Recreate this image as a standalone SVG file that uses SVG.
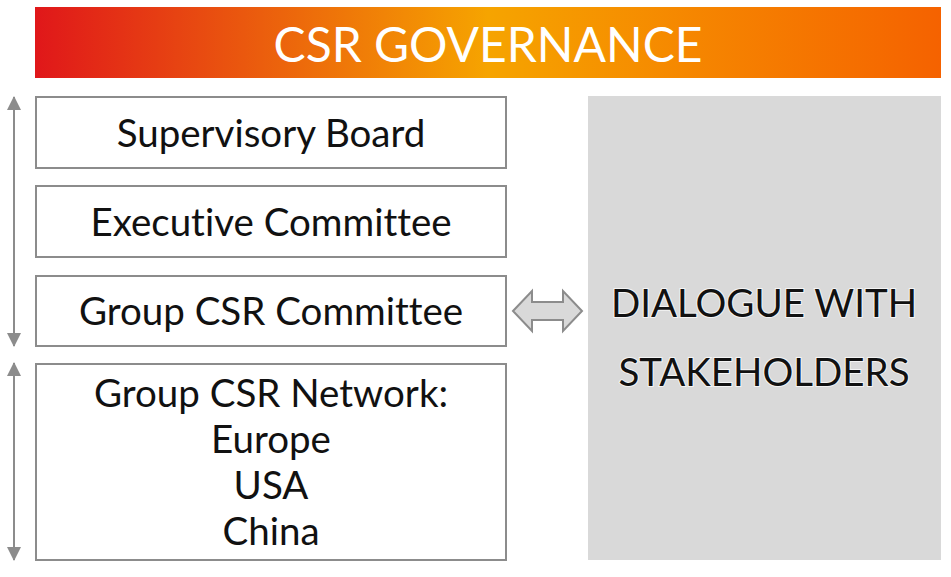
<svg xmlns="http://www.w3.org/2000/svg" width="951" height="577" viewBox="0 0 951 577">
<style>
.box{fill:#fff;stroke:#8c8c8c;stroke-width:2}
.t{font-family:Lato,"Liberation Sans",sans-serif;font-size:38.5px;fill:#111;text-anchor:middle;font-variant-ligatures:none;font-feature-settings:"liga" 0,"clig" 0,"dlig" 0}
.halo{stroke:#f4f4f4;stroke-width:2;paint-order:stroke}
.ax{stroke:#8c8c8c;stroke-width:2;fill:none}
</style>
<defs>
<linearGradient id="g" x1="0" x2="1" y1="0" y2="0">
<stop offset="0" stop-color="#e0171a"/>
<stop offset="0.5" stop-color="#f6a400"/>
<stop offset="1" stop-color="#f56200"/>
</linearGradient>
<marker id="ah2" viewBox="0 0 14 14" refX="13" refY="7" markerWidth="14" markerHeight="14" orient="auto-start-reverse" markerUnits="userSpaceOnUse">
<path d="M0,0 L14,7 L0,14 z" fill="#8c8c8c"/>
</marker>
</defs>
<g id="banner">
<rect x="35" y="7" width="906" height="71" fill="url(#g)"/>
<text x="488" y="62" font-family="Lato,'Liberation Sans',sans-serif" font-size="48" fill="#fff" text-anchor="middle">CSR GOVERNANCE</text>
</g>
<g id="supervisory-board">
<rect class="box" x="36" y="97" width="470" height="71"/>
<text class="t" x="271" y="147">Supervisory Board</text>
</g>
<g id="executive-committee">
<rect class="box" x="36" y="186" width="470" height="71"/>
<text class="t" x="271" y="236">Executive Committee</text>
</g>
<g id="group-csr-committee">
<rect class="box" x="36" y="276" width="470" height="70"/>
<text class="t" x="271" y="325">Group CSR Committee</text>
</g>
<g id="group-csr-network">
<rect class="box" x="36" y="364" width="470" height="196"/>
<text class="t" x="271" y="407">Group CSR Network:</text>
<text class="t" x="271" y="453">Europe</text>
<text class="t" x="271" y="499">USA</text>
<text class="t" x="271" y="545">China</text>
</g>
<g id="dialogue">
<rect x="588" y="96" width="353" height="464" fill="#d9d9d9"/>
<text class="t halo" x="764" y="317" font-size="41">DIALOGUE WITH</text>
<text class="t halo" x="764" y="386" font-size="41">STAKEHOLDERS</text>
</g>
<g id="connectors">
<line class="ax" x1="14" y1="97" x2="14" y2="346" marker-start="url(#ah2)" marker-end="url(#ah2)"/>
<line class="ax" x1="14" y1="363" x2="14" y2="560" marker-start="url(#ah2)" marker-end="url(#ah2)"/>
<path d="M513,311 L532,291 L532,302 L563,302 L563,291 L582,311 L563,331 L563,320 L532,320 L532,331 Z" fill="#d9d9d9" stroke="#8c8c8c" stroke-width="2"/>
</g>
</svg>
